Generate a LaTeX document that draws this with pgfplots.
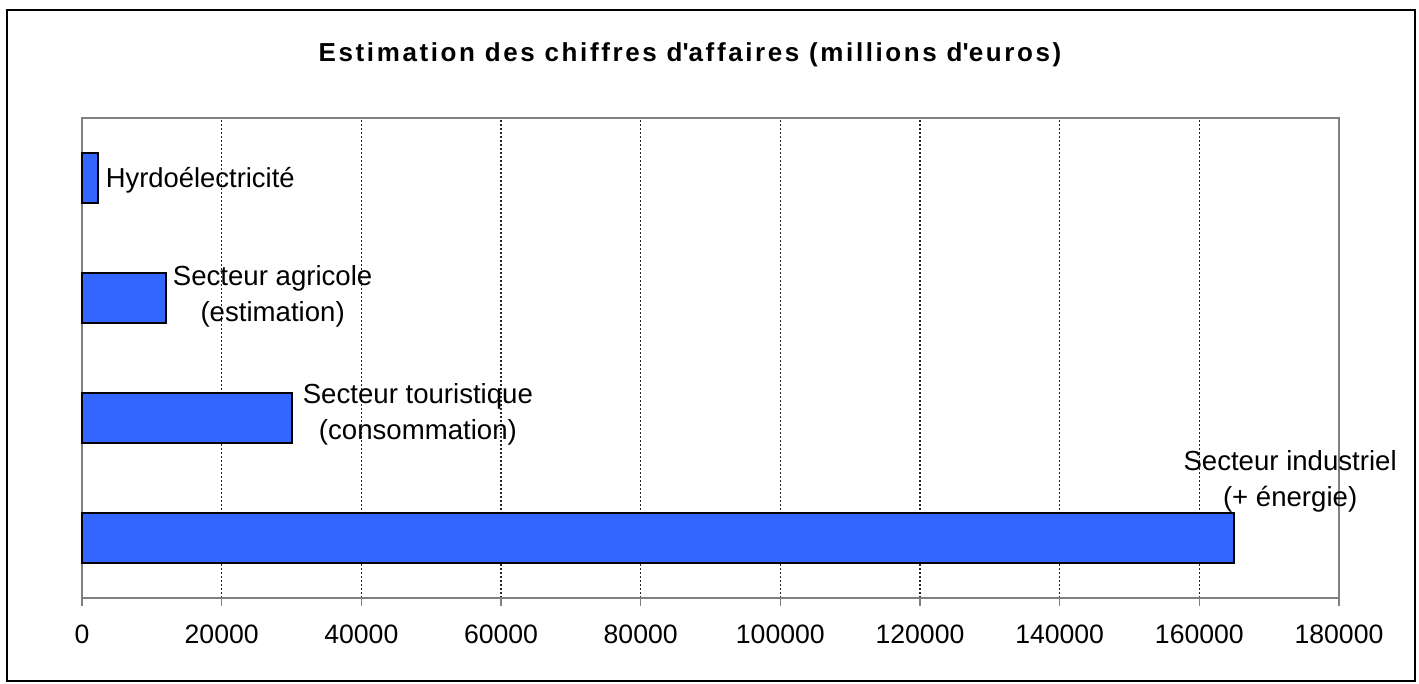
\documentclass[border=0pt]{standalone}
\usepackage{pgfplots}
\pgfplotsset{compat=1.18}
\usepackage{fontspec}
\setmainfont{Liberation Sans}
\newfontfamily\titlefont{Liberation Sans}[LetterSpace=10]
\definecolor{barblue}{HTML}{3366FF}
\definecolor{framegray}{HTML}{808080}
\begin{document}
\begin{tikzpicture}[x=1pt,y=1pt]
\path (-41pt,-43pt) rectangle (668.5pt,299pt);
\draw[black, line width=0.6pt] (-37.5pt,-41.5pt) rectangle (666.5pt,294pt);
\begin{axis}[
  at={(0pt,0pt)}, anchor=south west,
  scale only axis,
  width=628.5pt, height=240pt,
  xmin=0, xmax=180000,
  ymin=-0.5, ymax=3.5,
  xtick={0,20000,40000,60000,80000,100000,120000,140000,160000,180000},
  xtick pos=lower,
  ytick=\empty,
  scaled x ticks=false,
  /pgf/number format/fixed,
  /pgf/number format/precision=0,
  /pgf/number format/set thousands separator={},
  /pgf/number format/assume math mode=true,
  xticklabel style={font=\fontsize{13.3}{16}\selectfont, yshift=-6pt},
  axis line style={framegray, line width=0.8pt},
  tick style={framegray, line width=0.8pt},
  tick align=outside,
  major tick length=4pt,
  xmajorgrids,
  major grid style={black!85, line width=0.55pt, dash pattern=on 1pt off 1pt},
  xbar,
  bar width=25pt,
  clip=false,
]
\addplot[fill=barblue, draw=black, line width=1pt] coordinates {
  (165000,0) (30000,1) (12000,2) (2300,3)
};
\node[anchor=west, font=\fontsize{13.7}{18}\selectfont] at (axis cs:2400,2.98) {Hyrdoélectricité};
\node[align=center, font=\fontsize{13.8}{18}\selectfont] at (axis cs:27300,2.01) {Secteur agricole\\(estimation)};
\node[align=center, font=\fontsize{13.8}{18}\selectfont] at (axis cs:48100,1.03) {Secteur touristique\\(consommation)};
\node[align=center, font=\fontsize{13.8}{18}\selectfont] at (axis cs:173000,0.47) {Secteur industriel\\(+ énergie)};
\end{axis}
\node[font=\titlefont\bfseries\fontsize{13}{16}\selectfont] at (304pt,271.5pt) {Estimation des chiffres d\textquotesingle affaires (millions d\textquotesingle euros)};
\end{tikzpicture}
\end{document}
